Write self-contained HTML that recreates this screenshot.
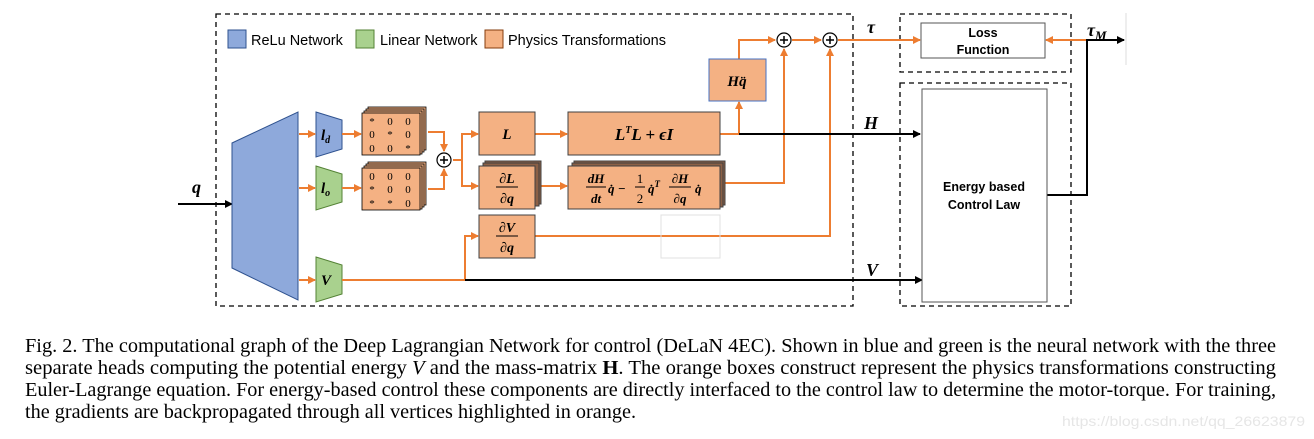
<!DOCTYPE html>
<html><head><meta charset="utf-8"><style>
html,body{margin:0;padding:0;background:#fff;}
svg{display:block;}
.cap{font-family:"Liberation Serif",serif;font-size:20px;fill:#000;}
.m{font-family:"Liberation Serif",serif;font-style:italic;font-weight:bold;fill:#000;}
.s{font-family:"Liberation Sans",sans-serif;fill:#000;}
</style></head><body>
<svg width="1314" height="439" viewBox="0 0 1314 439" xmlns="http://www.w3.org/2000/svg">
<defs>
<marker id="ao" markerWidth="8" markerHeight="8" refX="7" refY="4" orient="auto" markerUnits="userSpaceOnUse"><path d="M0,0 L8,4 L0,8 z" fill="#ED7D31"/></marker>
<marker id="ab" markerWidth="8" markerHeight="8" refX="7" refY="4" orient="auto" markerUnits="userSpaceOnUse"><path d="M0,0 L8,4 L0,8 z" fill="#000"/></marker>
</defs>
<g fill="none" stroke="#000" stroke-width="1.3" stroke-dasharray="5,4">
<rect x="216" y="14" width="637" height="292"/>
<rect x="900" y="14" width="171" height="58"/>
<rect x="900" y="83" width="171" height="223"/>
</g>
<rect x="228" y="30" width="18" height="18" fill="#8EA9DB" stroke="#2F528F"/>
<text x="251" y="45" class="s" font-size="14.5">ReLu Network</text>
<rect x="356" y="30" width="18" height="18" fill="#A9D18E" stroke="#548235"/>
<text x="380" y="45" class="s" font-size="14.5">Linear Network</text>
<rect x="485" y="30" width="18" height="18" fill="#F4B183" stroke="#843C0C"/>
<text x="508" y="45" class="s" font-size="14.5">Physics Transformations</text>
<line x1="178" y1="204" x2="232" y2="204" stroke="#000" stroke-width="2" marker-end="url(#ab)"/>
<text x="192" y="193" class="m" font-size="18">q</text>
<polygon points="232,143 298,112 298,300 232,268" fill="#8EA9DB" stroke="#2F528F"/>
<polygon points="316,112 342,120 342,149 316,157" fill="#8EA9DB" stroke="#2F528F"/>
<polygon points="316,166 342,174 342,202 316,210" fill="#A9D18E" stroke="#548235"/>
<polygon points="316,257 342,265 342,294 316,302" fill="#A9D18E" stroke="#548235"/>
<text x="321" y="140" class="m" font-size="15">l<tspan font-size="10" dy="3">d</tspan></text>
<text x="321" y="193" class="m" font-size="15">l<tspan font-size="10" dy="3">o</tspan></text>
<text x="321" y="285" class="m" font-size="15">V</text>
<g stroke="#ED7D31" stroke-width="2" fill="none">
<line x1="299" y1="134" x2="315" y2="134" marker-end="url(#ao)"/>
<line x1="299" y1="188" x2="315" y2="188" marker-end="url(#ao)"/>
<line x1="299" y1="280" x2="315" y2="280" marker-end="url(#ao)"/>
<line x1="342" y1="134" x2="361" y2="134" marker-end="url(#ao)"/>
<line x1="342" y1="188" x2="361" y2="188" marker-end="url(#ao)"/>
<polyline points="428,132 444,132 444,151" marker-end="url(#ao)"/>
<polyline points="428,189 444,189 444,169" marker-end="url(#ao)"/>
<polyline points="453,160 462,160 462,134 478,134" marker-end="url(#ao)"/>
<polyline points="462,160 462,186 478,186" marker-end="url(#ao)"/>
<line x1="535" y1="134" x2="567" y2="134" marker-end="url(#ao)"/>
<line x1="540" y1="186" x2="567" y2="186" marker-end="url(#ao)"/>
<polyline points="342,280 465,280 465,236 478,236" marker-end="url(#ao)"/>
<line x1="720" y1="134" x2="740" y2="134"/>
<line x1="739" y1="134" x2="739" y2="102" marker-end="url(#ao)"/>
<polyline points="739,59 739,40 775,40" marker-end="url(#ao)"/>
<line x1="792" y1="40" x2="821" y2="40" marker-end="url(#ao)"/>
<polyline points="724,183 784,183 784,49" marker-end="url(#ao)"/>
<polyline points="535,236 830,236 830,49" marker-end="url(#ao)"/>
<line x1="838" y1="40" x2="920" y2="40" marker-end="url(#ao)"/>
<line x1="1087" y1="40" x2="1046" y2="40" marker-end="url(#ao)"/>
</g>
<g fill="#F4B183" stroke="#000" stroke-width="0.8">
<rect x="368" y="107" width="58" height="43"/><rect x="366" y="109" width="58" height="43"/><rect x="364" y="111" width="58" height="43"/><rect x="362" y="113" width="58" height="42"/>
<rect x="368" y="162" width="58" height="43"/><rect x="366" y="164" width="58" height="43"/><rect x="364" y="166" width="58" height="43"/><rect x="362" y="168" width="58" height="42"/>
</g>
<g font-family="Liberation Serif,serif" font-size="11" fill="#000" text-anchor="middle">
<text x="372" y="125">*</text><text x="390" y="125">0</text><text x="408" y="125">0</text>
<text x="372" y="138">0</text><text x="390" y="138">*</text><text x="408" y="138">0</text>
<text x="372" y="152">0</text><text x="390" y="152">0</text><text x="408" y="152">*</text>
<text x="372" y="180">0</text><text x="390" y="180">0</text><text x="408" y="180">0</text>
<text x="372" y="193">*</text><text x="390" y="193">0</text><text x="408" y="193">0</text>
<text x="372" y="207">*</text><text x="390" y="207">*</text><text x="408" y="207">0</text>
</g>
<g fill="#fff" stroke="#000" stroke-width="1.2">
<circle cx="444" cy="160" r="7"/><circle cx="784" cy="40" r="7"/><circle cx="830" cy="40" r="7"/>
</g>
<g stroke="#000" stroke-width="1.5">
<line x1="440" y1="160" x2="448" y2="160"/><line x1="444" y1="156" x2="444" y2="164"/>
<line x1="780" y1="40" x2="788" y2="40"/><line x1="784" y1="36" x2="784" y2="44"/>
<line x1="826" y1="40" x2="834" y2="40"/><line x1="830" y1="36" x2="830" y2="44"/>
</g>
<g fill="#F4B183" stroke="#404040" stroke-width="1">
<rect x="479" y="112" width="56" height="43"/>
<rect x="485" y="161" width="56" height="43" fill="#8B6046"/><rect x="483" y="163" width="56" height="43" fill="#8B6046"/><rect x="479" y="166" width="56" height="43"/>
<rect x="479" y="215" width="56" height="43"/>
<rect x="568" y="112" width="152" height="43"/>
<rect x="574" y="161" width="151" height="44" fill="#8B6046"/><rect x="572" y="163" width="151" height="44" fill="#8B6046"/><rect x="568" y="166" width="152" height="43"/>
<rect x="709" y="59" width="57" height="42" stroke="#4472C4"/>
</g>
<rect x="661" y="215" width="59" height="43" fill="none" stroke="#e0e0e0"/>
<text x="507" y="139" class="m" font-size="15" text-anchor="middle">L</text>
<text x="507" y="183" class="m" font-size="14" text-anchor="middle">∂L</text>
<line x1="496" y1="187" x2="518" y2="187" stroke="#000"/>
<text x="507" y="203" class="m" font-size="14" text-anchor="middle">∂q</text>
<text x="507" y="232" class="m" font-size="14" text-anchor="middle">∂V</text>
<line x1="496" y1="236" x2="518" y2="236" stroke="#000"/>
<text x="507" y="252" class="m" font-size="14" text-anchor="middle">∂q</text>
<text x="644" y="140" class="m" font-size="17" text-anchor="middle">L<tspan font-size="10" dy="-7">T</tspan><tspan dy="7">L + ϵI</tspan></text>
<text x="737" y="86" class="m" font-size="15" text-anchor="middle">Hq̈</text>
<g class="m" font-size="13">
<text x="596" y="183" text-anchor="middle">dH</text><line x1="586" y1="187" x2="606" y2="187" stroke="#000"/><text x="596" y="203" text-anchor="middle">dt</text>
<text x="608" y="193">q̇ −</text>
<text x="640" y="183" text-anchor="middle" font-weight="normal" font-style="normal">1</text><line x1="635" y1="187" x2="645" y2="187" stroke="#000"/><text x="640" y="203" text-anchor="middle" font-weight="normal" font-style="normal">2</text>
<text x="648" y="193">q̇<tspan font-size="9" dy="-6">T</tspan></text>
<text x="680" y="183" text-anchor="middle">∂H</text><line x1="669" y1="187" x2="691" y2="187" stroke="#000"/><text x="680" y="203" text-anchor="middle">∂q</text>
<text x="695" y="193">q̇</text>
</g>
<line x1="739" y1="134" x2="920" y2="134" stroke="#000" stroke-width="2" marker-end="url(#ab)"/>
<line x1="465" y1="280" x2="922" y2="280" stroke="#000" stroke-width="2" marker-end="url(#ab)"/>
<polyline points="1047,195 1087,195 1087,40 1124,40" fill="none" stroke="#000" stroke-width="2" marker-end="url(#ab)"/>
<line x1="1126" y1="13" x2="1126" y2="65" stroke="#ddd"/>
<text x="867" y="33" class="m" font-size="18">τ</text>
<text x="864" y="129" class="m" font-size="18">H</text>
<text x="866" y="276" class="m" font-size="18" font-weight="normal">V</text>
<text x="1087" y="36" class="m" font-size="18">τ<tspan font-size="13" dy="4">M</tspan></text>
<rect x="921" y="23" width="124" height="35" fill="#fff" stroke="#555"/>
<text x="983" y="37" class="s" font-size="12.5" font-weight="bold" text-anchor="middle">Loss</text>
<text x="983" y="54" class="s" font-size="12.5" font-weight="bold" text-anchor="middle">Function</text>
<rect x="922" y="89" width="125" height="213" fill="#fff" stroke="#555"/>
<text x="984" y="191" class="s" font-size="12.5" font-weight="bold" text-anchor="middle">Energy based</text>
<text x="984" y="209" class="s" font-size="12.5" font-weight="bold" text-anchor="middle">Control Law</text>
<text class="cap" x="25" y="352" textLength="1251" lengthAdjust="spacingAndGlyphs">Fig. 2.   The computational graph of the Deep Lagrangian Network for control (DeLaN 4EC). Shown in blue and green is the neural network with the three</text>
<text class="cap" x="25" y="374" textLength="1251" lengthAdjust="spacingAndGlyphs">separate heads computing the potential energy <tspan font-style="italic">V</tspan> and the mass-matrix <tspan font-weight="bold">H</tspan>. The orange boxes construct represent the physics transformations constructing</text>
<text class="cap" x="25" y="396" textLength="1251" lengthAdjust="spacingAndGlyphs">Euler-Lagrange equation. For energy-based control these components are directly interfaced to the control law to determine the motor-torque. For training,</text>
<text class="cap" x="25" y="418" textLength="611" lengthAdjust="spacingAndGlyphs">the gradients are backpropagated through all vertices highlighted in orange.</text>
<text x="1062" y="426" font-family="Liberation Sans,sans-serif" font-size="14" fill="#e6e6e6" textLength="243" lengthAdjust="spacingAndGlyphs">https://blog.csdn.net/qq_26623879</text>
</svg>
</body></html>
